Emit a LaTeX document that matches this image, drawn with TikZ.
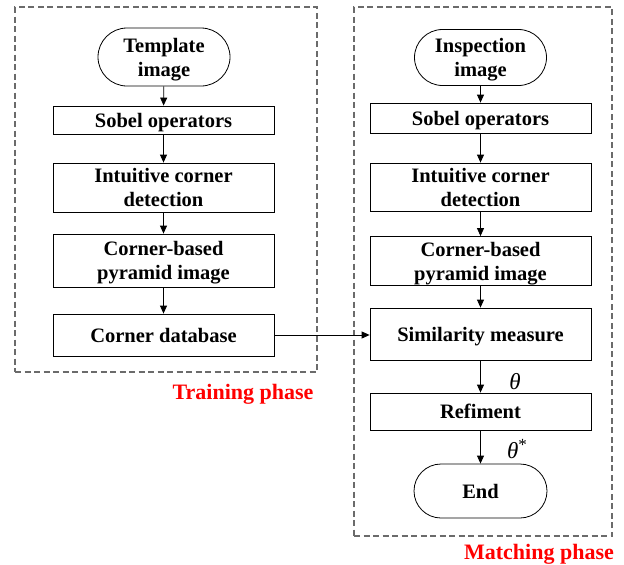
\documentclass[tikz,border=0pt]{standalone}
\usepackage{fontspec}
\setmainfont{Liberation Serif}
\usetikzlibrary{arrows.meta}
\begin{document}
\begin{tikzpicture}[x=1pt,y=-1pt,
  every node/.style={font=\bfseries\fontsize{20.5}{24}\selectfont, align=center, inner sep=0pt, text depth=0pt},
  procbox/.style={draw=black, line width=0.8pt, rectangle, minimum width=221pt},
  termbox/.style={draw=black, line width=0.8pt, rectangle, minimum width=132pt, minimum height=56pt, rounded corners=28pt},
  phasebox/.style={draw=black!58, line width=1.2pt, dash pattern=on 6pt off 3.5pt, rectangle},
  flow/.style={draw=black, line width=0.8pt, -{Triangle[length=8pt,width=7pt]}},
  phaselabel/.style={text=red, font=\bfseries\fontsize{22}{26}\selectfont},
  anglelabel/.style={font=\itshape\fontsize{23}{26}\selectfont}
]
\useasboundingbox (0,0) rectangle (624,565);
% phase frames
\node[phasebox, minimum width=302pt, minimum height=365pt] (trainframe) at (166,189.5) {};
\node[phasebox, minimum width=258pt, minimum height=529pt] (matchframe) at (483,271.5) {};
% training column
\node[termbox, minimum height=58pt, rounded corners=29pt] (tpl) at (164,57) {Template\\image};
\node[procbox, minimum height=28pt] (sob1) at (163.5,120) {Sobel operators};
\node[procbox, minimum height=49pt] (icd1) at (163.5,187.5) {Intuitive corner\\detection};
\node[procbox, minimum height=53pt] (cbp1) at (163.5,260.5) {Corner-based\\pyramid image};
\node[procbox, minimum height=42pt] (cdb) at (163.5,335) {Corner database};
% matching column
\node[termbox] (insp) at (480.5,57.5) {Inspection\\image};
\node[procbox, minimum height=30pt] (sob2) at (480.5,118) {Sobel operators};
\node[procbox, minimum height=48pt] (icd2) at (480.5,187) {Intuitive corner\\detection};
\node[procbox, minimum height=49pt] (cbp2) at (480.5,261) {Corner-based\\pyramid image};
\node[procbox, minimum height=52pt] (sim) at (480.5,334) {Similarity measure};
\node[procbox, minimum height=37pt] (ref) at (480.5,411.5) {Refiment};
\node[termbox, minimum width=133pt, minimum height=54pt, rounded corners=27pt] (fin) at (480.5,491) {End};
% arrows
\draw[flow] (tpl) -- (sob1);
\draw[flow] (sob1) -- (icd1);
\draw[flow] (icd1) -- (cbp1);
\draw[flow] (cbp1) -- (cdb);
\draw[flow] (insp) -- (sob2);
\draw[flow] (sob2) -- (icd2);
\draw[flow] (icd2) -- (cbp2);
\draw[flow] (cbp2) -- (sim);
\draw[flow] (sim) -- (ref);
\draw[flow] (ref) -- (fin);
\draw[flow] (cdb.east) -- (cdb.east -| sim.west);
% labels
\node[anglelabel] (th) at (515,381) {θ};
\node[anglelabel] (ths) at (517,449) {θ\raisebox{8pt}{\fontsize{17}{17}\selectfont\upshape *}};
\node[phaselabel] (trainlbl) at (243,392) {Training phase};
\node[phaselabel] (matchlbl) at (539,552) {Matching phase};
\end{tikzpicture}
\end{document}
